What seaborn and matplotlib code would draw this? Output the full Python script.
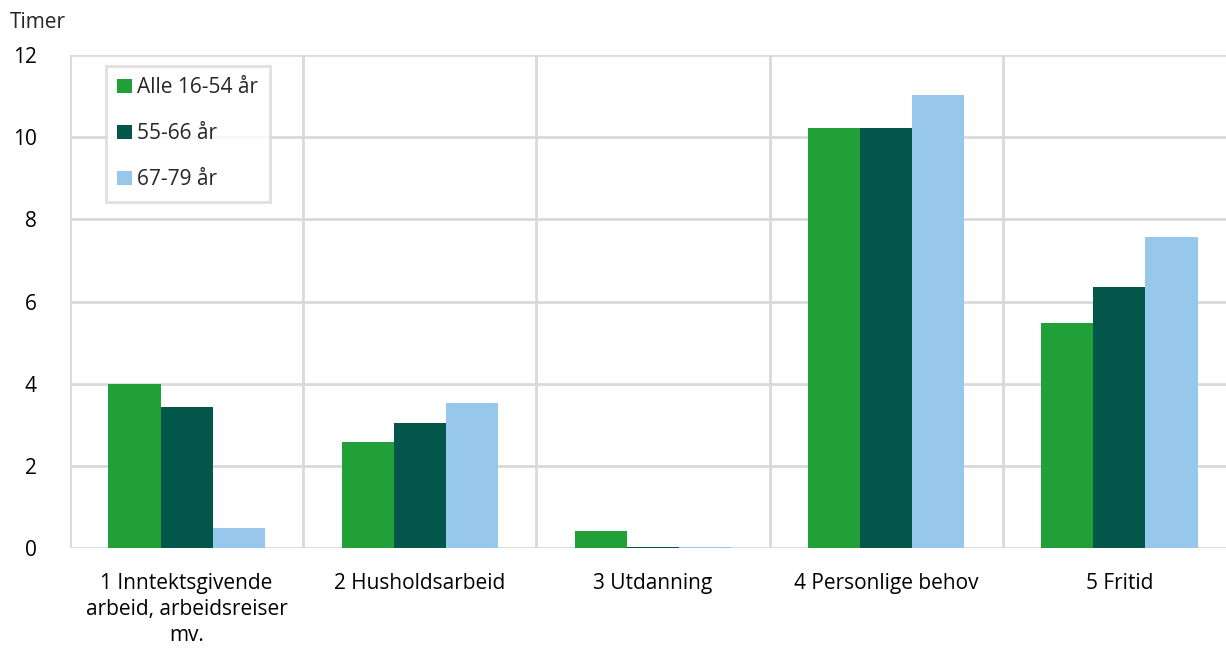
import numpy as np
import pandas as pd
import matplotlib
matplotlib.use("Agg")
import matplotlib.pyplot as plt
import seaborn as sns

categories = ["1 Inntektsgivende\narbeid, arbeidsreiser\nmv.", "2 Husholdsarbeid",
              "3 Utdanning", "4 Personlige behov", "5 Fritid"]
groups = ["Alle 16-54 år", "55-66 år", "67-79 år"]
alle_16_54 = [4.0, 2.58, 0.41, 10.22, 5.48]
aar_55_66 = [3.44, 3.04, 0.03, 10.22, 6.35]
aar_67_79 = [0.49, 3.53, 0.03, 11.03, 7.57]
colors = ["#21a038", "#03574a", "#97c8eb"]

df = pd.DataFrame({
    "Kategori": categories * 3,
    "Gruppe": [groups[0]] * 5 + [groups[1]] * 5 + [groups[2]] * 5,
    "Timer": alle_16_54 + aar_55_66 + aar_67_79,
})

sns.set_style("white")
plt.rcParams["font.family"] = ["Open Sans", "DejaVu Sans"]
fs = 15

fig = plt.figure(figsize=(12.26, 6.48), dpi=100)
ax = fig.add_axes([70 / 1226, 100 / 648, (1236 - 70) / 1226, (548 - 55) / 648])

sns.barplot(data=df, x="Kategori", y="Timer", hue="Gruppe", palette=colors,
            width=0.67, saturation=1, linewidth=0, ax=ax, zorder=3)

ax.set_ylim(0, 12)
ax.set_xlim(-0.5, 4.5)
ax.set_yticks(np.arange(0, 13, 2))
ax.set_xticks(np.arange(-0.5, 5, 1), minor=True)
ax.grid(axis="y", color="#d9d9d9", lw=2, zorder=0)
ax.grid(axis="x", which="minor", color="#d9d9d9", lw=2, zorder=0)
ax.grid(axis="x", which="major", visible=False)
ax.tick_params(axis="both", which="both", length=0, labelsize=fs, colors="#000000")
ax.tick_params(axis="x", pad=18)
ax.tick_params(axis="y", pad=24)
for lbl in ax.get_xticklabels():
    lbl.set_linespacing(1.3)
for s in ax.spines.values():
    s.set_visible(False)
ax.set_xlabel("")
ax.set_ylabel("")
fig.text(10 / 1226, 1 - 23 / 648, "Timer", fontsize=fs, va="center", ha="left")

leg = ax.legend(loc="upper left", bbox_to_anchor=(36 / 1166, 1 - 11 / 493), frameon=True,
                fancybox=False, fontsize=fs, handlelength=0.7, handleheight=0.7,
                handletextpad=0.25, labelspacing=1.2, borderpad=0.55, borderaxespad=0)
leg.get_frame().set_edgecolor("#d9d9d9")
leg.get_frame().set_linewidth(2)

fig.savefig("out.png", dpi=100)
